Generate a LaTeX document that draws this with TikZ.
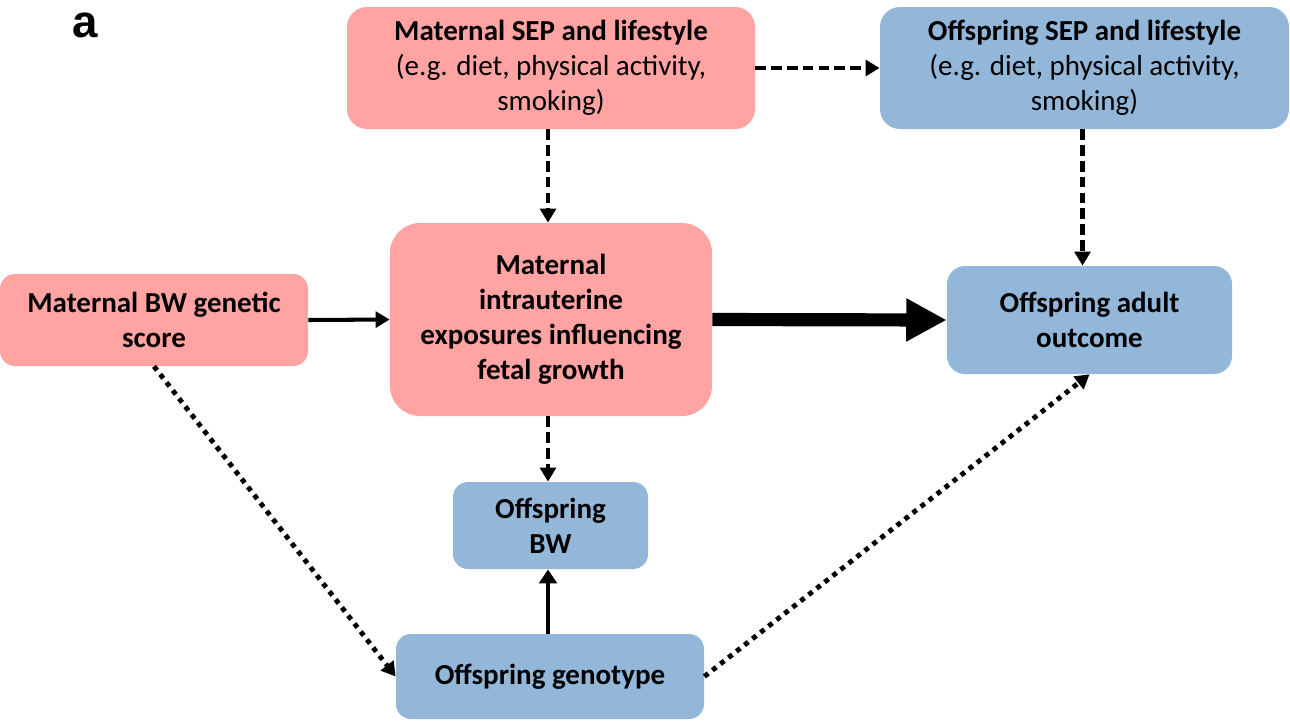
\documentclass[tikz,border=0pt]{standalone}
\usepackage{fontspec}
\setmainfont{Carlito}
\newfontfamily\arialfont{Liberation Sans}
\usetikzlibrary{arrows.meta}
\definecolor{pinkbox}{HTML}{FFA3A3}
\definecolor{bluebox}{HTML}{93B7D9}
\begin{document}
\begin{tikzpicture}[x=0.02cm,y=-0.02cm,
  box/.style={draw=none, align=center, inner sep=0pt, font=\fontsize{16.5}{20}\selectfont},
  pbox/.style={box, fill=pinkbox},
  bbox/.style={box, fill=bluebox},
  dashedarrow/.style={line width=2.3pt, dash pattern=on 6pt off 3pt, -{Triangle[length=8pt,width=9pt]}},
  solidarrow/.style={line width=2.3pt, -{Triangle[length=8pt,width=9pt]}},
  thickarrow/.style={line width=7.5pt, -{Triangle[length=23pt,width=23pt]}},
  dottedarrow/.style={line width=2.8pt, dash pattern=on 2.8pt off 3pt, -{Triangle[length=8pt,width=9pt]}}
]
\useasboundingbox (0,0) rectangle (1290,721);
\node[font=\arialfont\bfseries\fontsize{26}{30}\selectfont, anchor=base] (lbl) at (85,37) {a};

\node[pbox, minimum width=408*0.02cm, minimum height=122*0.02cm, rounded corners=20*0.02cm] (msep) at (551,68)
  {\textbf{Maternal SEP and lifestyle}\\(e.g. diet, physical activity,\\smoking)};
\node[bbox, minimum width=409*0.02cm, minimum height=122*0.02cm, rounded corners=20*0.02cm] (osep) at (1084.5,68)
  {\textbf{Offspring SEP and lifestyle}\\(e.g. diet, physical activity,\\smoking)};
\node[pbox, minimum width=308*0.02cm, minimum height=92*0.02cm, rounded corners=15*0.02cm, font=\bfseries\fontsize{16.5}{20}\selectfont] (gs) at (154,320)
  {Maternal BW genetic\\score};
\node[pbox, minimum width=322*0.02cm, minimum height=193*0.02cm, rounded corners=30*0.02cm, font=\bfseries\fontsize{16.5}{20}\selectfont] (mi) at (551,319.5)
  {Maternal\\intrauterine\\exposures influencing\\fetal growth};
\node[bbox, minimum width=285*0.02cm, minimum height=108*0.02cm, rounded corners=18*0.02cm, font=\bfseries\fontsize{16.5}{20}\selectfont] (ao) at (1089.5,320)
  {Offspring adult\\outcome};
\node[bbox, minimum width=195*0.02cm, minimum height=87*0.02cm, rounded corners=15*0.02cm, font=\bfseries\fontsize{16.5}{20}\selectfont] (bw) at (550.5,525.5)
  {Offspring\\BW};
\node[bbox, minimum width=308*0.02cm, minimum height=85*0.02cm, rounded corners=15*0.02cm, font=\bfseries\fontsize{16.5}{20}\selectfont] (gt) at (550,676.5)
  {Offspring genotype};

\draw[dashedarrow] (msep.east) -- (osep.west);
\draw[dashedarrow] ([xshift=-3*0.02cm]msep.south) -- ([xshift=-3*0.02cm]mi.north);
\draw[dashedarrow] ([xshift=-2*0.02cm]osep.south) -- ([xshift=-2*0.02cm]osep.south |- ao.north);
\draw[solidarrow] (gs.east) -- (mi.west);
\draw[thickarrow] (mi.east) -- (ao.west);
\draw[dashedarrow] ([xshift=-3*0.02cm]mi.south) -- ([xshift=-3*0.02cm]mi.south |- bw.north);
\draw[line width=2.8pt, -{Triangle[length=8pt,width=10pt]}] ([xshift=-2*0.02cm]gt.north) -- ([xshift=-2*0.02cm]gt.north |- bw.south);
\draw[dottedarrow] (gs.south) -- (gt.west);
\draw[dottedarrow] (gt.east) -- (ao.south);
\end{tikzpicture}
\end{document}
